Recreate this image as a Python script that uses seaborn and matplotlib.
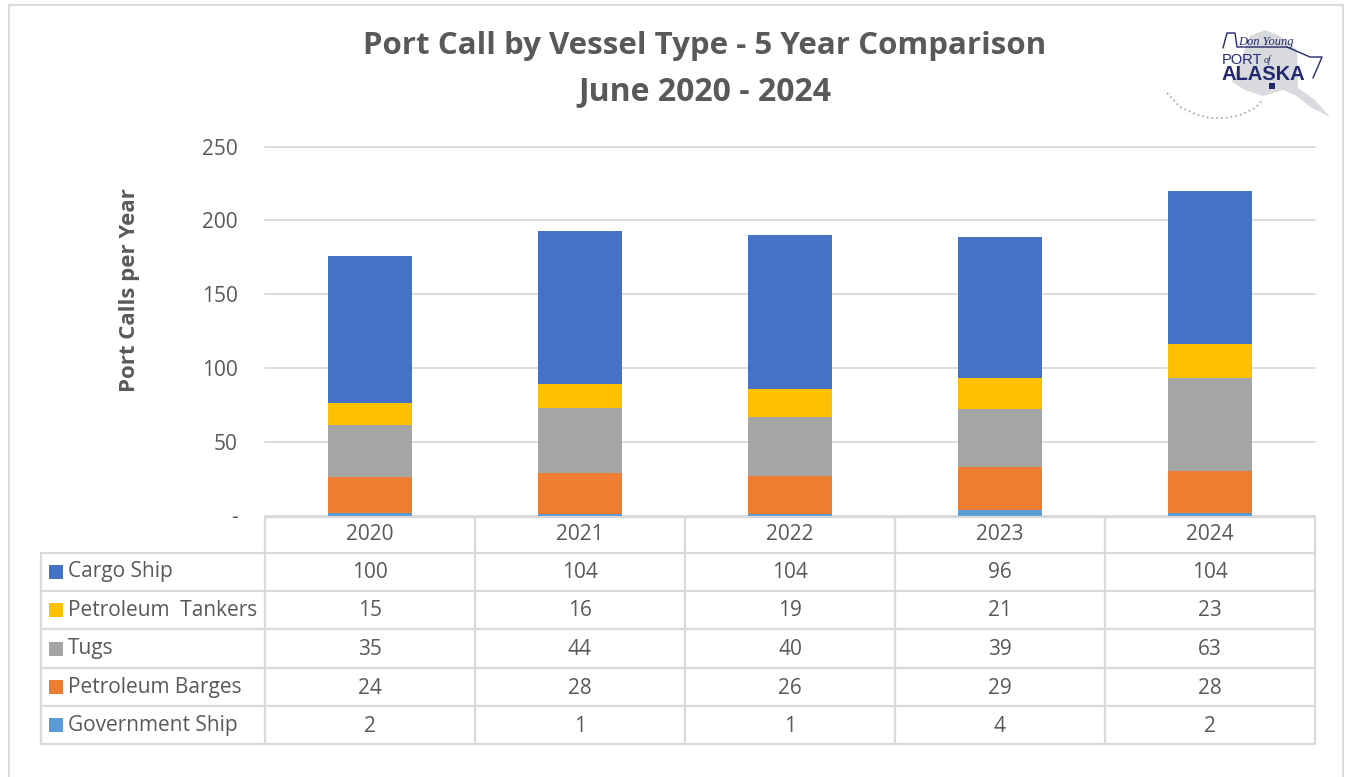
import matplotlib.pyplot as plt
import numpy as np
import seaborn as sns
from matplotlib.patches import Polygon, Rectangle

WIDTH, HEIGHT = 1346, 777
GRID_COLOR = "#d9d9d9"
TEXT_COLOR = "#595959"
NAVY = "#23296e"

YEARS = ["2020", "2021", "2022", "2023", "2024"]
Y_TICKS = [0, 50, 100, 150, 200, 250]
Y_TICK_LABELS = ["-", "50", "100", "150", "200", "250"]

# table order, top row first
SERIES_NAMES = ["Cargo Ship", "Petroleum  Tankers", "Tugs", "Petroleum Barges", "Government Ship"]
CARGO = [100, 104, 104, 96, 104]
TANKERS = [15, 16, 19, 21, 23]
TUGS = [35, 44, 40, 39, 63]
BARGES = [24, 28, 26, 29, 28]
GOVERNMENT = [2, 1, 1, 4, 2]
SERIES_VALUES = [CARGO, TANKERS, TUGS, BARGES, GOVERNMENT]
SERIES_COLORS = ["#4472c4", "#ffc000", "#a5a5a5", "#ed7d31", "#5b9bd5"]

sns.set_theme(style="white")
plt.rcParams["font.family"] = ["Open Sans", "DejaVu Sans"]

fig = plt.figure(figsize=(WIDTH / 100, HEIGHT / 100), dpi=100)


def px_axes(left, top, right, bottom):
    return fig.add_axes([left / WIDTH, 1 - bottom / HEIGHT, (right - left) / WIDTH, (bottom - top) / HEIGHT])


# Main chart, y axis runs 0 to 250 between pixel rows 515 and 146
ax = px_axes(265, 146.5, 1315, 515.5)
running = np.zeros(len(YEARS))
for name, values, color in reversed(list(zip(SERIES_NAMES, SERIES_VALUES, SERIES_COLORS))):
    sns.barplot(x=YEARS, y=values, bottom=running, color=color, saturation=1, width=0.4,
                linewidth=0, ax=ax, zorder=3)
    running += np.array(values)

ax.set_ylim(0, 250)
ax.set_yticks(Y_TICKS)
ax.set_yticklabels(Y_TICK_LABELS, fontsize=15, color=TEXT_COLOR)
ax.set_xticks([])
ax.set_xlabel("")
ax.set_ylabel("")
ax.grid(axis="y", color=GRID_COLOR, linewidth=1.3, zorder=0, clip_on=False)
ax.tick_params(axis="y", length=0, pad=19.5)
sns.despine(ax=ax, left=True, bottom=True)

# Overlay in pixel coordinates for frame, table and titles
ov = px_axes(0, 0, WIDTH, HEIGHT)
ov.set_xlim(0, WIDTH)
ov.set_ylim(HEIGHT, 0)
ov.axis("off")
ov.patch.set_alpha(0)

ov.plot([9, 9, 1343, 1343], [777, 5, 5, 777], color=GRID_COLOR, lw=1.3)

ov.text(704.5, 46, "Port Call by Vessel Type - 5 Year Comparison", ha="center", va="center",
        fontsize=22.5, fontweight="bold", color=TEXT_COLOR)
ov.text(704.5, 92, "June 2020 - 2024", ha="center", va="center",
        fontsize=23, fontweight="bold", color=TEXT_COLOR)
ov.text(130, 290, "Port Calls per Year", ha="center", va="center", rotation=90,
        fontsize=16, fontweight="bold", color=TEXT_COLOR)

# Data table, top line sits just under the bars so the thin Government strip shows
row_lines = [516.5, 553, 591, 629, 668, 706, 744]
col_lines = [265, 475, 685, 895, 1105, 1315]
for y in row_lines:
    ov.plot([265 if y == row_lines[0] else 41, 1315], [y, y], color=GRID_COLOR, lw=1.6)
for x in col_lines:
    ov.plot([x, x], [row_lines[0], 744], color=GRID_COLOR, lw=1.6)
ov.plot([41, 41], [553, 744], color=GRID_COLOR, lw=1.6)

for i, year in enumerate(YEARS):
    cx = (col_lines[i] + col_lines[i + 1]) / 2
    ov.text(cx, 534.5, year, ha="center", va="center", fontsize=15, color=TEXT_COLOR)
for r, (name, values, color) in enumerate(zip(SERIES_NAMES, SERIES_VALUES, SERIES_COLORS)):
    cy = (row_lines[r + 1] + row_lines[r + 2]) / 2
    ov.add_patch(Rectangle((49, cy - 7), 14, 14, color=color, lw=0))
    ov.text(68, cy, name, ha="left", va="center", fontsize=15, color=TEXT_COLOR)
    for i, v in enumerate(values):
        cx = (col_lines[i] + col_lines[i + 1]) / 2
        ov.text(cx, cy + 1, str(v), ha="center", va="center", fontsize=15, color=TEXT_COLOR)

# Logo, rough Alaska outline and the port name
ov.add_patch(Polygon([(1250, 36), (1265, 30), (1280, 36), (1297, 50), (1298, 88), (1315, 100), (1330, 117),
                      (1312, 108), (1295, 95), (1283, 90), (1263, 96), (1245, 90), (1232, 82), (1240, 62)],
                     color="#d8dadd", lw=0))
ov.plot([1167, 1180, 1195, 1210, 1225, 1240, 1255, 1263], [93, 107, 114, 118, 118, 115, 108, 100],
        color="#a9acb4", lw=1.3, ls=":")
ov.plot([1223, 1227, 1235, 1237, 1287, 1310, 1322, 1313], [48, 33, 33, 47, 47, 57, 57, 78], color=NAVY, lw=1)
ov.text(1238, 42, "Don Young", fontsize=9, style="italic", family="Liberation Serif", color=NAVY, va="center")
ov.text(1222, 60, "PORT", fontsize=10.5, color=NAVY, va="center", family="Liberation Sans")
ov.text(1264, 60, "of", fontsize=7, style="italic", family="Liberation Serif", color=NAVY, va="center")
ov.text(1222, 75, "ALASKA", fontsize=14.5, fontweight="bold", family="Liberation Sans", color=NAVY, va="center")
ov.add_patch(Rectangle((1269, 83), 6, 6, color=NAVY, lw=0))

fig.savefig("out.png", dpi=100)
